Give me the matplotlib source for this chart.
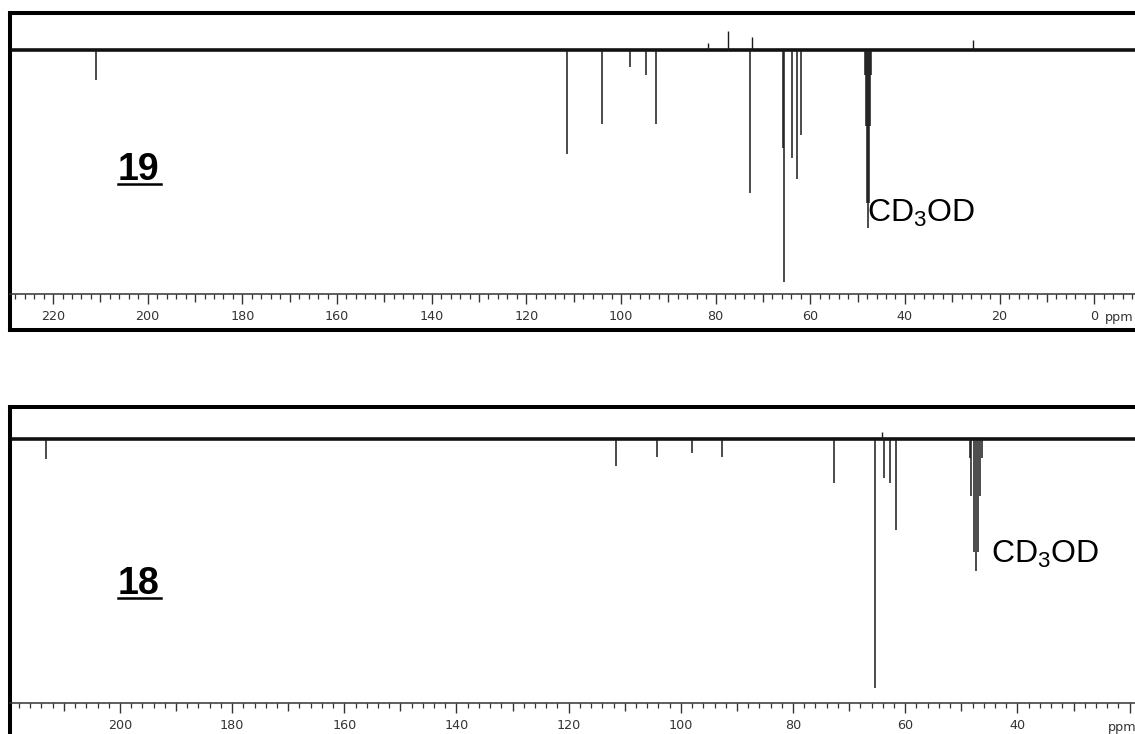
import matplotlib
matplotlib.use('Agg')
import matplotlib.pyplot as plt
from matplotlib.ticker import MultipleLocator, FuncFormatter
from matplotlib.lines import Line2D

plt.rcParams['mathtext.default'] = 'regular'

W, H, DPI = 1135, 734, 100

# ---- Spectrum of compound 19 (negative = downward peaks) ----
s19_ppm = [210.9, 111.4, 104.0, 98.1, 94.7, 92.5, 72.8, 65.8, 65.5, 63.9, 62.8, 61.9,
           48.4, 48.2, 48.0, 47.8, 47.6, 47.4, 47.2]
s19_int = [-30, -104, -74, -17, -25, -74, -143, -98, -232, -108, -129, -85,
           -25, -76, -153, -178, -153, -76, -25]
s19_up_ppm = [81.6, 77.3, 72.3, 25.6]
s19_up_int = [7, 19, 13, 10]

# ---- Spectrum of compound 18 ----
s18_ppm = [213.2, 111.6, 104.3, 98.1, 92.6, 72.7, 65.4, 63.8, 62.7, 61.7,
           48.5, 48.2, 47.8, 47.4, 47.0, 46.6, 46.3]
s18_int = [-20, -27, -18, -14, -18, -44, -249, -39, -44, -91,
           -19, -57, -113, -132, -113, -57, -19]
s18_up_ppm = [64.1]
s18_up_int = [7]

top_ticks_labels = [220, 200, 180, 160, 140, 120, 100, 80, 60, 40, 20, 0]
bot_ticks_labels = [200, 180, 160, 140, 120, 100, 80, 60, 40]

fig = plt.figure(figsize=(W / DPI, H / DPI), dpi=DPI)
fig.patch.set_facecolor('white')


def px_axes(x0, ytop, x1, ybot, **kw):
    return fig.add_axes([x0 / W, 1 - ybot / H, (x1 - x0) / W, (ybot - ytop) / H], **kw)


def panel(ytop, ybot, yline, xlim, ylim, ppm, inten, up_ppm, up_int, labels):
    ax = px_axes(10, ytop, 1170, ybot)
    ax.set_xlim(*xlim)
    ax.set_ylim(*ylim)
    ax.set_xticks([])
    ax.set_yticks([])
    for s in ax.spines.values():
        s.set_linewidth(2.9)
        s.set_color('black')
    ax.axhline(0, xmin=0.003, color='#111111', lw=2.6, zorder=3)
    ax.vlines(ppm, 0, inten, color='#1a1a1a', lw=1.1, zorder=4)
    ax.vlines(up_ppm, 0, up_int, color='#1a1a1a', lw=1.0, zorder=4)

    r = px_axes(10, yline, 1170, yline + 0.2)
    r.patch.set_alpha(0)
    r.set_xlim(*xlim)
    r.set_yticks([])
    for k in ('top', 'left', 'right'):
        r.spines[k].set_visible(False)
    r.spines['bottom'].set_linewidth(1.1)
    r.spines['bottom'].set_color('#333333')
    r.xaxis.set_major_locator(MultipleLocator(10))
    r.xaxis.set_minor_locator(MultipleLocator(2))
    lab = set(labels)
    r.xaxis.set_major_formatter(FuncFormatter(
        lambda v, p: f"{int(round(v))}" if int(round(v)) in lab else ""))
    r.tick_params(axis='x', which='major', direction='out', length=6, width=1.0,
                  color='#333333', labelsize=9.2, labelcolor='#333333', pad=5.5)
    r.tick_params(axis='x', which='minor', direction='out', length=3.5, width=0.9,
                  color='#333333')
    fig.canvas.draw()
    for t in r.xaxis.get_major_ticks():
        v = int(round(t.get_loc()))
        if v % 20 == 0:
            t.tick1line.set_markersize(7.5)
    return ax, r


ax1, r1 = panel(13, 330, 294, (229.1, -16.0), (-280, 37),
                s19_ppm, s19_int, s19_up_ppm, s19_up_int, top_ticks_labels)
ax2, r2 = panel(407, 760, 703, (219.6, 12.8), (-321, 32),
                s18_ppm, s18_int, s18_up_ppm, s18_up_int, bot_ticks_labels)


def ftxt(x, y, s, **kw):
    fig.text(x / W, 1 - y / H, s, **kw)


ftxt(1119, 317, 'ppm', fontsize=9.2, color='#333333', ha='center', va='center')
ftxt(1122, 728, 'ppm', fontsize=9.2, color='#333333', ha='center', va='center')

for x, y, s in [(118, 180, '19'), (118, 594, '18')]:
    ftxt(x, y, s, fontsize=27, fontweight='bold', family='Liberation Sans',
         ha='left', va='baseline')
    fig.add_artist(Line2D([x / W, (x + 43) / W], [1 - (y + 4) / H, 1 - (y + 4) / H],
                          color='black', lw=1.8))

ftxt(867, 222, 'CD$_3$OD', fontsize=23, family='Liberation Sans', ha='left', va='baseline')
ftxt(991, 563, 'CD$_3$OD', fontsize=23, family='Liberation Sans', ha='left', va='baseline')

fig.savefig('out.png', dpi=DPI, facecolor='white')
